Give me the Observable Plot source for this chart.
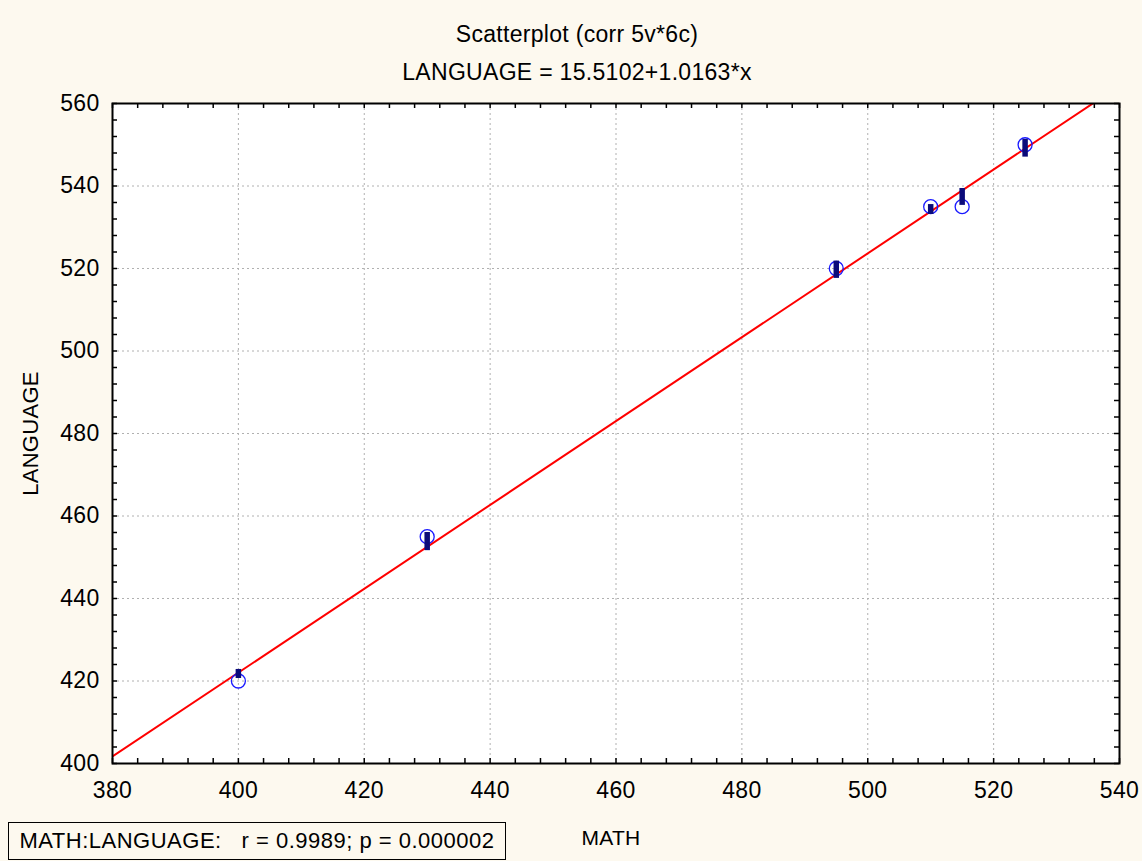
<!DOCTYPE html>
<html>
<head>
<meta charset="utf-8">
<script src="https://cdn.jsdelivr.net/npm/d3@7"></script>
<script src="https://cdn.jsdelivr.net/npm/@observablehq/plot@0.6"></script>
<style>
  html, body { margin: 0; padding: 0; background: #fdf9ef; }
  #wrap { position: relative; width: 1142px; height: 861px; font-family: "Liberation Sans", Arial, sans-serif; }
  #note { position: absolute; left: 8px; top: 822px; width: 496px; height: 36px; border: 1.5px solid #000; box-sizing: content-box;
          font-size: 22px; line-height: 36px; text-align: center; color: #000; white-space: pre; letter-spacing: 0.5px; }
  svg text { letter-spacing: 0.3px; }
</style>
</head>
<body>
<div id="wrap"></div>
<script>
// ---- data ----
const math      = [400, 430, 495, 510, 515, 525];
const language  = [420, 455, 520, 535, 535, 550];
const barLow    = [420.6, 451.6, 517.6, 533.1, 535.3, 547.0];
const barHigh   = [422.8, 456.0, 521.8, 535.5, 539.4, 551.3];
const intercept = 15.5102;
const slope     = 1.0163;
const xTicks = [380, 400, 420, 440, 460, 480, 500, 520, 540];
const yTicks = [400, 420, 440, 460, 480, 500, 520, 540, 560];
const titleLines = ["Scatterplot (corr 5v*6c)", "LANGUAGE = 15.5102+1.0163*x"];
const xLabel = "MATH";
const yLabel = "LANGUAGE";
const noteText = "MATH:LANGUAGE:   r = 0.9989; p = 0.000002";

const points = math.map((m, i) => ({math: m, language: language[i], lo: barLow[i], hi: barHigh[i]}));
const fitLine = [380, 540].map(x => ({x, y: intercept + slope * x}));
const xMinor = d3.range(xTicks[0], xTicks[xTicks.length - 1] + 0.001, 4);
const yMinor = d3.range(yTicks[0], yTicks[yTicks.length - 1] + 0.001, 4);

const W = 1142, H = 861, mL = 112, mR = 23, mT = 103, mB = 98;
const innerW = W - mL - mR, innerH = H - mT - mB, tk = 5;
const FS = 23;

const chart = Plot.plot({
  width: W, height: H,
  marginLeft: mL, marginRight: mR, marginTop: mT, marginBottom: mB,
  style: {fontSize: FS + "px", fontFamily: "'Liberation Sans', Arial, sans-serif", background: "transparent", color: "#000", overflow: "visible"},
  x: {domain: [380, 540], ticks: xTicks},
  y: {domain: [400, 560], ticks: yTicks},
  marks: [
    Plot.frame({fill: "white", stroke: "none"}),
    Plot.gridX(xTicks.slice(1, -1), {stroke: "#b0b0b0", strokeOpacity: 1, strokeDasharray: "2,3"}),
    Plot.gridY(yTicks.slice(1, -1), {stroke: "#b0b0b0", strokeOpacity: 1, strokeDasharray: "2,3"}),
    Plot.line(fitLine, {x: "x", y: "y", stroke: "#ff0000", strokeWidth: 2, clip: true}),
    Plot.dot(points, {x: "math", y: "language", r: 7, stroke: "#1a1aff", strokeWidth: 1.3, fill: "none"}),
    Plot.ruleX(points, {x: "math", y1: "lo", y2: "hi", stroke: "#0b0b7a", strokeWidth: 5.5}),
    // inward ticks on all four sides
    Plot.ruleX(xMinor, {x: d => d, insetBottom: innerH - tk, stroke: "black", strokeWidth: 1.5}),
    Plot.ruleX(xMinor, {x: d => d, insetTop: innerH - tk, stroke: "black", strokeWidth: 1.5}),
    Plot.ruleY(yMinor, {y: d => d, insetRight: innerW - tk, stroke: "black", strokeWidth: 1.5}),
    Plot.ruleY(yMinor, {y: d => d, insetLeft: innerW - tk, stroke: "black", strokeWidth: 1.5}),
    Plot.frame({stroke: "black", strokeWidth: 2}),
    Plot.axisX(xTicks, {anchor: "bottom", tickSize: 0, tickPadding: 18, label: null, fontSize: FS}),
    Plot.axisY(yTicks, {anchor: "left", tickSize: 0, tickPadding: 13, label: null, fontSize: FS}),
    Plot.text([yLabel], {text: d => d, frameAnchor: "left", dx: -82, rotate: -90, textAnchor: "middle", lineAnchor: "middle", fontSize: 22}),
    Plot.text([xLabel], {text: d => d, frameAnchor: "bottom", dy: 75, dx: -5, textAnchor: "middle", lineAnchor: "middle", fontSize: 21}),
    Plot.text([titleLines[0]], {text: d => d, frameAnchor: "top", dy: -69, dx: -39, textAnchor: "middle", lineAnchor: "middle", fontSize: FS}),
    Plot.text([titleLines[1]], {text: d => d, frameAnchor: "top", dy: -31, dx: -39, textAnchor: "middle", lineAnchor: "middle", fontSize: FS})
  ]
});
const wrap = document.getElementById("wrap");
wrap.appendChild(chart);
const note = document.createElement("div");
note.id = "note";
note.textContent = noteText;
wrap.appendChild(note);
</script>
</body>
</html>
